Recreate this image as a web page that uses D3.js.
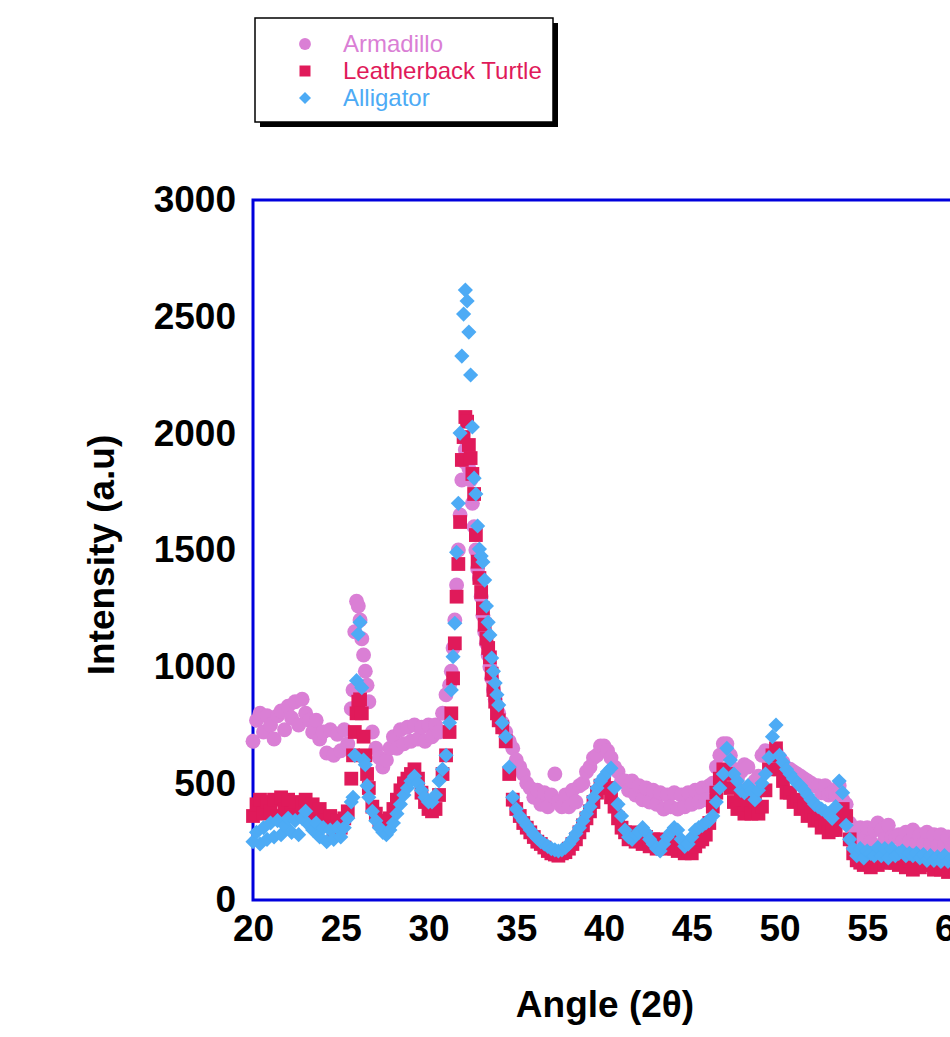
<!DOCTYPE html>
<html lang="en">
<head>
  <meta charset="UTF-8">
  <title>XRD patterns</title>
  <script src="https://d3js.org/d3.v7.min.js"></script>
  <style>
    body { margin: 0; background: #fff; font-family: "Liberation Sans", Arial, sans-serif; }
    svg { display: block; }
    .tick text { font-weight: bold; font-size: 37px; fill: #000; font-family: "Liberation Sans", Arial, sans-serif; }
    .axis-title { font-weight: bold; font-size: 37px; fill: #000; }
    .legend-text { font-size: 24px; }
  </style>
</head>
<body>
<svg id="chart" width="950" height="1037"></svg>
<script>
  // 2-theta sampling (denser around the two sharp peaks)
  const angles = [
    20.0,20.2,20.4,20.6,20.8,21.0,21.2,21.4,21.6,21.8,22.0,22.2,22.4,22.6,22.8,23.0,23.2,23.4,23.6,23.8,24.0,24.2,24.4,24.6,24.8,25.0,25.2,25.4,25.6,
    25.7,25.8,25.9,26.0,26.1,26.2,26.3,26.4,26.5,26.6,
    26.8,27.0,27.2,27.4,27.6,27.8,28.0,28.2,28.4,28.6,28.8,29.0,29.2,29.4,29.6,29.8,30.0,30.2,30.4,30.6,30.8,31.0,31.2,
    31.3,31.4,31.5,31.6,31.7,31.8,31.9,32.0,32.1,32.2,32.3,32.4,32.5,32.6,32.7,32.8,32.9,33.0,33.1,33.2,33.3,33.4,33.5,33.6,33.7,33.8,33.9,34.0,
    34.2,34.4,34.6,34.8,35.0,35.2,35.4,35.6,35.8,36.0,36.2,36.4,36.6,36.8,37.0,37.2,37.4,37.6,37.8,38.0,
    38.2,38.4,38.6,38.8,39.0,39.2,39.4,39.6,39.8,40.0,40.2,40.4,40.6,40.8,41.0,41.2,41.4,41.6,41.8,42.0,
    42.2,42.4,42.6,42.8,43.0,43.2,43.4,43.6,43.8,44.0,44.2,44.4,44.6,44.8,45.0,45.2,45.4,45.6,45.8,46.0,
    46.2,46.4,46.6,46.8,47.0,47.2,47.4,47.6,47.8,48.0,48.2,48.4,48.6,48.8,49.0,49.2,49.4,49.6,49.8,50.0,
    50.2,50.4,50.6,50.8,51.0,51.2,51.4,51.6,51.8,52.0,52.2,52.4,52.6,52.8,53.0,53.2,53.4,53.6,53.8,54.0,
    54.2,54.4,54.6,54.8,55.0,55.2,55.4,55.6,55.8,56.0,56.2,56.4,56.6,56.8,57.0,57.2,57.4,57.6,57.8,58.0,
    58.2,58.4,58.6,58.8,59.0,59.2,59.4,59.6,59.8,60.0
  ];

  const armadillo = [
    680,770,800,720,790,750,690,790,810,730,830,780,850,750,860,800,770,720,770,690,720,630,730,620,710,640,730,670,820,
    900,1150,1280,1260,1200,1120,1050,980,920,850,
    720,650,610,570,600,650,700,650,730,670,740,680,750,690,740,680,750,700,750,720,800,880,920,
    980,1080,1200,1350,1500,1650,1800,1880,1930,1900,1850,1800,1700,1600,1500,1420,1380,1300,1220,1150,1100,1050,1000,950,900,860,830,800,
    760,720,680,650,600, 570,540,500,480,440, 470,410,460,400,450, 540,420,400,450,400,
    470,420,490,500,550, 570,610,620,660,660, 640,610,570,550,510, 510,470,510,450,490,
    430,480,420,470,410, 460,390,450,400,460, 390,450,400,460,410, 470,420,480,430,490,
    500,570,620,670,670, 620,560,520,550,580, 570,490,510,530,620, 640,630,620,640,610,
    590,560,560,550,540, 530,520,510,500,490, 490,460,490,450,460, 450,490,430,410,330,
    310,270,310,260,310, 250,300,330,300,260, 320,270,270,280,250, 290,250,300,240,280,
    240,290,240,280,230, 280,240,270,230,250
  ];

  const leatherback = [
    360,410,430,370,420,380,430,360,440,390,430,370,420,360,410,430,370,410,350,390,340,320,360,300,340,310,350,380,520,
    620,720,800,850,860,800,700,620,540,480,
    400,370,340,330,320,350,390,430,470,500,520,540,560,520,460,420,390,380,390,450,540,620,720,
    800,950,1100,1300,1440,1620,1886,1984,2070,2050,1950,1894,1826,1740,1564,1450,1380,1320,1250,1180,1120,1080,1040,970,900,850,800,770,
    740,680,540,430,390, 360,330,310,290,270, 250,240,225,210,200, 195,190,200,205,220,
    240,260,290,320,350, 380,420,460,490,500, 480,440,400,350,310, 290,260,290,250,280,
    240,270,230,260,220, 260,230,220,250,220, 210,240,200,210,200, 230,250,260,280,330,
    400,460,520,560,540, 480,420,390,430,370, 410,370,420,370,400, 470,560,620,650,560,
    510,460,460,420,430, 390,400,360,370,340, 350,310,320,290,300, 300,350,390,360,260,
    200,170,160,150,170, 140,180,150,190,160, 170,160,160,150,180, 140,170,130,170,140,
    150,150,160,130,160, 130,160,120,150,130
  ];

  const alligator = [
    250,290,240,310,260,330,270,340,280,320,350,290,340,280,350,380,320,300,330,270,310,250,300,260,310,270,310,350,420,
    440,620,940,1140,1190,910,600,580,490,440,
    380,340,310,290,280,300,330,370,410,450,480,510,530,500,470,440,420,420,450,510,560,620,760,
    900,1043,1186,1490,1700,2001,2331,2511,2614,2567,2434,2250,2027,1808,1740,1603,1504,1474,1449,1371,1260,1190,1136,1037,980,930,880,836,
    760,700,570,440,390, 360,340,320,300,280, 265,250,240,230,220, 215,210,215,225,240,
    260,285,310,340,370, 400,440,480,510,530, 550,565,480,410,360, 300,270,260,280,290,
    310,290,260,240,220, 210,240,270,290,310, 300,260,230,240,270, 300,310,320,330,340,
    360,420,480,540,650, 600,540,510,470,460, 490,470,430,470,500, 540,610,700,750,620,
    590,560,540,520,500, 490,470,450,430,410, 400,390,380,370,350, 400,510,460,320,260,
    220,190,220,180,210, 200,190,225,190,220, 180,220,190,200,210, 190,200,190,200,180,
    195,170,190,170,185, 165,190,165,180,160
  ];

  const seriesNames = ["Armadillo", "Leatherback Turtle", "Alligator"];
  const seriesColors = ["#da7fd5", "#e01a5a", "#4dabf5"];
  const xTicks = [20, 25, 30, 35, 40, 45, 50, 55, 60];
  const yTicks = [0, 500, 1000, 1500, 2000, 2500, 3000];

  const svg = d3.select("#chart");
  const plot = { left: 253, top: 200, right: 955, bottom: 900 };

  const x = d3.scaleLinear().domain([20, 60]).range([plot.left, plot.right]);
  const y = d3.scaleLinear().domain([0, 3000]).range([plot.bottom, plot.top]);

  // axes (no tick marks, just labels)
  svg.append("g")
    .attr("transform", `translate(0,${plot.bottom})`)
    .call(d3.axisBottom(x).tickValues(xTicks).tickFormat(d3.format("d")).tickSize(0).tickPadding(15))
    .call(g => g.select(".domain").remove());

  svg.append("g")
    .attr("transform", `translate(${plot.left},0)`)
    .call(d3.axisLeft(y).tickValues(yTicks).tickFormat(d3.format("d")).tickSize(0).tickPadding(17))
    .call(g => g.select(".domain").remove());

  // blue frame
  svg.append("rect")
    .attr("x", plot.left).attr("y", plot.top)
    .attr("width", plot.right - plot.left).attr("height", plot.bottom - plot.top)
    .attr("fill", "none").attr("stroke", "#0000dd").attr("stroke-width", 3);

  const allSeries = [armadillo, leatherback, alligator];
  const symbols = [
    d3.symbol(d3.symbolCircle, 175),
    d3.symbol(d3.symbolSquare, 190),
    d3.symbol(d3.symbolSquare, 115)
  ];
  const rot = [0, 0, 45];

  allSeries.forEach((vals, i) => {
    if (vals.length !== angles.length) console.error(seriesNames[i], vals.length, angles.length);
    const pts = angles.map((a, j) => ({ a: a, v: vals[j] }));
    svg.append("g")
      .selectAll("path")
      .data(pts)
      .join("path")
      .attr("d", symbols[i])
      .attr("transform", d => `translate(${x(d.a)},${y(d.v)}) rotate(${rot[i]})`)
      .attr("fill", seriesColors[i]);
  });

  // axis titles
  svg.append("text")
    .attr("class", "axis-title")
    .attr("x", 605).attr("y", 1017)
    .attr("text-anchor", "middle")
    .text("Angle (2\u03b8)");

  svg.append("text")
    .attr("class", "axis-title")
    .attr("transform", "translate(114,555) rotate(-90)")
    .attr("text-anchor", "middle")
    .text("Intensity (a.u)");

  // legend with drop shadow
  const lg = svg.append("g");
  lg.append("rect").attr("x", 260).attr("y", 23).attr("width", 298).attr("height", 104).attr("fill", "#000");
  lg.append("rect").attr("x", 255).attr("y", 18).attr("width", 298).attr("height", 104)
    .attr("fill", "#fff").attr("stroke", "#000").attr("stroke-width", 1.5);

  seriesNames.forEach((name, i) => {
    const cy = 44 + i * 27;
    lg.append("path")
      .attr("d", d3.symbol(i === 0 ? d3.symbolCircle : d3.symbolSquare, i === 0 ? 110 : (i === 1 ? 121 : 72))())
      .attr("transform", `translate(305,${cy}) rotate(${rot[i]})`)
      .attr("fill", seriesColors[i]);
    lg.append("text")
      .attr("class", "legend-text")
      .attr("x", 343).attr("y", cy + 8)
      .attr("fill", seriesColors[i])
      .text(name);
  });
</script>
</body>
</html>
